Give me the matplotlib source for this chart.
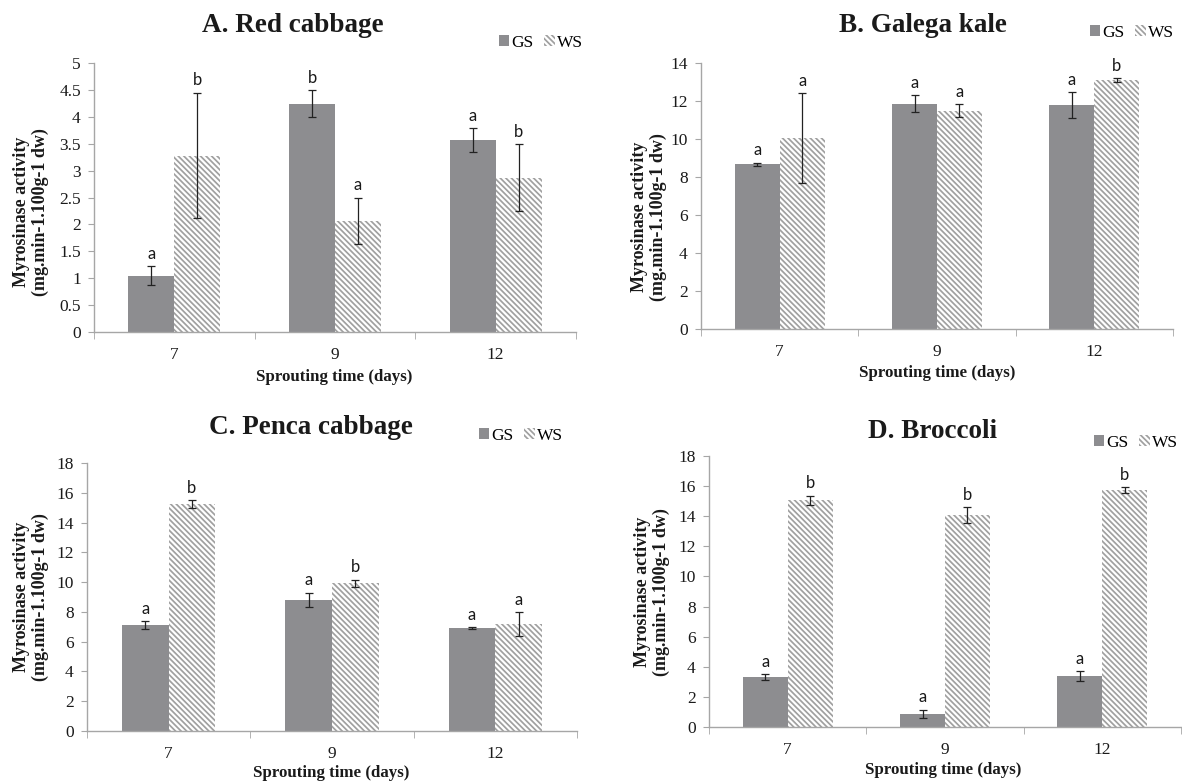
import matplotlib
matplotlib.use("Agg")
import matplotlib.pyplot as plt
from matplotlib.patches import Patch
from matplotlib.ticker import FuncFormatter, FixedLocator
import numpy as np

plt.rcParams['hatch.linewidth'] = 1.25

days = ["7", "9", "12"]
series = ["GS", "WS"]

titles = ["A. Red cabbage", "B. Galega kale", "C. Penca cabbage", "D. Broccoli"]

gs_red = [1.05, 4.24, 3.57]
gs_red_err = [0.18, 0.25, 0.22]
ws_red = [3.28, 2.07, 2.87]
ws_red_err = [1.17, 0.43, 0.63]
gs_red_lab = ["a", "b", "a"]
ws_red_lab = ["b", "a", "b"]

gs_galega = [8.67, 11.86, 11.78]
gs_galega_err = [0.09, 0.44, 0.69]
ws_galega = [10.05, 11.50, 13.12]
ws_galega_err = [2.36, 0.32, 0.10]
gs_galega_lab = ["a", "a", "a"]
ws_galega_lab = ["a", "a", "b"]

gs_penca = [7.11, 8.80, 6.89]
gs_penca_err = [0.26, 0.50, 0.07]
ws_penca = [15.26, 9.92, 7.16]
ws_penca_err = [0.26, 0.25, 0.80]
gs_penca_lab = ["a", "a", "a"]
ws_penca_lab = ["b", "b", "a"]

gs_broc = [3.33, 0.89, 3.37]
gs_broc_err = [0.20, 0.27, 0.33]
ws_broc = [15.07, 14.08, 15.74]
ws_broc_err = [0.30, 0.50, 0.22]
gs_broc_lab = ["a", "a", "a"]
ws_broc_lab = ["b", "b", "b"]

ymax = [5, 14, 18, 18]
ystep = [0.5, 2, 2, 2]

W, H = 1182, 782
fig = plt.figure(figsize=(W / 100, H / 100), dpi=100)

def fx(x):
    return x / W

def fy(y):
    return 1 - y / H

# axes boxes in pixels: left, right, top, bottom
boxes = [(94, 576, 63, 332), (701, 1173, 63, 329), (87, 577, 463, 731), (709, 1181, 456, 727)]
title_pos = [(293, 25), (923, 25), (311, 428), (933, 432)]
legend_pos = [(541, 43), (1132, 33), (521, 436), (1136, 443)]
ylabel_pos = [(31, 212), (649, 217), (31, 597), (652, 592)]
xlabel_pos = [(334, 377), (937, 373), (331, 773), (943, 770)]

data = [
    (gs_red, gs_red_err, ws_red, ws_red_err, gs_red_lab, ws_red_lab),
    (gs_galega, gs_galega_err, ws_galega, ws_galega_err, gs_galega_lab, ws_galega_lab),
    (gs_penca, gs_penca_err, ws_penca, ws_penca_err, gs_penca_lab, ws_penca_lab),
    (gs_broc, gs_broc_err, ws_broc, ws_broc_err, gs_broc_lab, ws_broc_lab),
]

GS_COLOR = "#8d8d90"
HATCH_COLOR = "#a0a0a0"
SPINE = "#a6a6a6"
HATCH = "\\" * 6
serif = "Liberation Serif"
bw = 1 / 3.5

for i in range(4):
    l, r, t, b = boxes[i]
    ax = fig.add_axes([fx(l), fy(b), (r - l) / W, (b - t) / H])
    gs, gse, ws, wse, gl, wl = data[i]
    x = np.arange(len(days))
    ax.bar(x - bw / 2, gs, bw, color=GS_COLOR, lw=0, zorder=2)
    ax.bar(x + bw / 2, ws, bw, facecolor="white", edgecolor=HATCH_COLOR, hatch=HATCH, lw=0, zorder=2)
    ax.errorbar(x - bw / 2, gs, yerr=gse, fmt="none", ecolor="#222222", elinewidth=0.9, capsize=3, capthick=0.9, zorder=3)
    ax.errorbar(x + bw / 2, ws, yerr=wse, fmt="none", ecolor="#222222", elinewidth=0.9, capsize=3, capthick=0.9, zorder=3)
    for j in range(len(days)):
        ax.annotate(gl[j], (x[j] - bw / 2, gs[j] + gse[j]), xytext=(0, 3), textcoords="offset points",
                    ha="center", va="bottom", fontsize=12, family="Lato", color="#1a1a1a")
        ax.annotate(wl[j], (x[j] + bw / 2, ws[j] + wse[j]), xytext=(0, 3), textcoords="offset points",
                    ha="center", va="bottom", fontsize=12, family="Lato", color="#1a1a1a")
    ax.set_xlim(-0.5, len(days) - 0.5)
    ax.set_ylim(0, ymax[i])
    ax.set_yticks(np.arange(0, ymax[i] + ystep[i] / 2, ystep[i]))
    ax.yaxis.set_major_formatter(FuncFormatter(lambda v, p: f"{v:g}"))
    ax.set_xticks(x)
    ax.set_xticklabels(days)
    ax.xaxis.set_minor_locator(FixedLocator(np.arange(-0.5, len(days), 1.0)))
    ax.tick_params(axis="x", which="major", length=0, pad=11, labelsize=12.5)
    ax.tick_params(axis="x", which="minor", length=5, color=SPINE, direction="out")
    ax.tick_params(axis="y", length=4.5, color=SPINE, pad=5, labelsize=12.5, direction="out")
    for lab in ax.get_xticklabels() + ax.get_yticklabels():
        lab.set_family(serif)
        lab.set_color("#1a1a1a")
    for s in ["top", "right"]:
        ax.spines[s].set_visible(False)
    for s in ["left", "bottom"]:
        ax.spines[s].set_color(SPINE)
        ax.spines[s].set_linewidth(1.0)

    tx, ty = title_pos[i]
    fig.text(fx(tx), fy(ty), titles[i], ha="center", va="center", fontsize=19.5,
             fontweight="bold", family=serif, color="#1a1a1a")
    yx, yy = ylabel_pos[i]
    fig.text(fx(yx), fy(yy), "Myrosinase activity\n(mg.min-1.100g-1 dw)", ha="center", va="center",
             rotation=90, fontsize=13, fontweight="bold", family=serif, color="#1a1a1a",
             linespacing=1.1, multialignment="center")
    xx, xy = xlabel_pos[i]
    fig.text(fx(xx), fy(xy), "Sprouting time (days)", ha="center", va="center", fontsize=12.2,
             fontweight="bold", family=serif, color="#1a1a1a")
    lx, ly = legend_pos[i]
    handles = [Patch(facecolor=GS_COLOR, lw=0),
               Patch(facecolor="white", edgecolor=HATCH_COLOR, hatch=HATCH, lw=0)]
    fig.legend(handles, series, loc="center", bbox_to_anchor=(fx(lx), fy(ly)),
               ncol=2, frameon=False, handlelength=0.6, handleheight=0.6,
               handletextpad=0.15, columnspacing=0.6, borderpad=0,
               prop={"family": serif, "size": 12.5})

fig.savefig("out.png", dpi=100)
